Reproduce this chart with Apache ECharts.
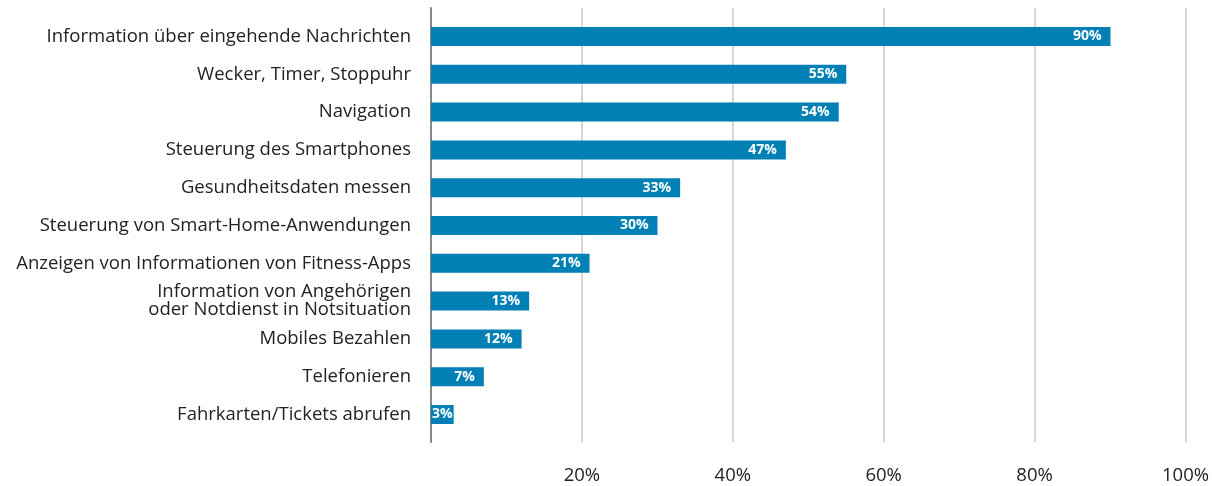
<!DOCTYPE html>
<html>
<head>
<meta charset="utf-8">
<script src="https://cdn.jsdelivr.net/npm/echarts@6/dist/echarts.min.js"></script>
<style>
  html, body { margin: 0; padding: 0; background: #fff; }
  #chart { width: 1212px; height: 486px; }
</style>
</head>
<body>
<div id="chart"></div>
<script>
// Smartwatch usage categories (top to bottom) and shares in percent
const categories = [
  'Information über eingehende Nachrichten',
  'Wecker, Timer, Stoppuhr',
  'Navigation',
  'Steuerung des Smartphones',
  'Gesundheitsdaten messen',
  'Steuerung von Smart-Home-Anwendungen',
  'Anzeigen von Informationen von Fitness-Apps',
  'Information von Angehörigen\noder Notdienst in Notsituation',
  'Mobiles Bezahlen',
  'Telefonieren',
  'Fahrkarten/Tickets abrufen'
];
const shares = [90, 55, 54, 47, 33, 30, 21, 13, 12, 7, 3];
const xTicks = [0, 20, 40, 60, 80, 100];

const FONT = '"Open Sans", "Noto Sans", sans-serif';
const BLUE = '#0080b4';

const barData = shares.map(v => ({
  value: v,
  label: { distance: v < 5 ? 1 : 9 }
}));

const chart = echarts.init(document.getElementById('chart'), null, { renderer: 'canvas' });
chart.setOption({
  animation: false,
  backgroundColor: '#fff',
  grid: [
    { left: 431, right: 26, top: 17.6, height: 415.8 },
    { left: 431, right: 26, top: 8, bottom: 44 }
  ],
  xAxis: [
    { gridIndex: 0, type: 'value', min: 0, max: 100, show: false },
    {
      gridIndex: 1, type: 'value', min: xTicks[0], max: xTicks[xTicks.length - 1], interval: 20,
      axisLine: { show: false }, axisTick: { show: false },
      splitLine: { show: true, lineStyle: { color: '#c8c8c8', width: 1.5 } },
      axisLabel: {
        margin: 24, color: '#222', fontFamily: FONT, fontSize: 18.5,
        formatter: v => (v === 0 ? '' : v + '%')
      }
    }
  ],
  yAxis: [
    {
      gridIndex: 0, type: 'category', data: categories, inverse: true,
      axisLine: { show: false }, axisTick: { show: false },
      axisLabel: { margin: 20, color: '#222', fontFamily: FONT, fontSize: 18.5, lineHeight: 18 }
    },
    {
      gridIndex: 1, type: 'value', min: 0, max: 1,
      axisLine: { show: true, lineStyle: { color: '#888', width: 2 } },
      axisTick: { show: false }, axisLabel: { show: false }, splitLine: { show: false }
    }
  ],
  series: [{
    type: 'bar', xAxisIndex: 0, yAxisIndex: 0, data: barData,
    barWidth: 19, z: 5,
    itemStyle: { color: BLUE },
    label: {
      show: true, position: 'insideRight', color: '#fff',
      fontFamily: FONT, fontSize: 14, fontWeight: 'bold',
      formatter: p => p.value + '%'
    }
  }]
});
</script>
</body>
</html>
